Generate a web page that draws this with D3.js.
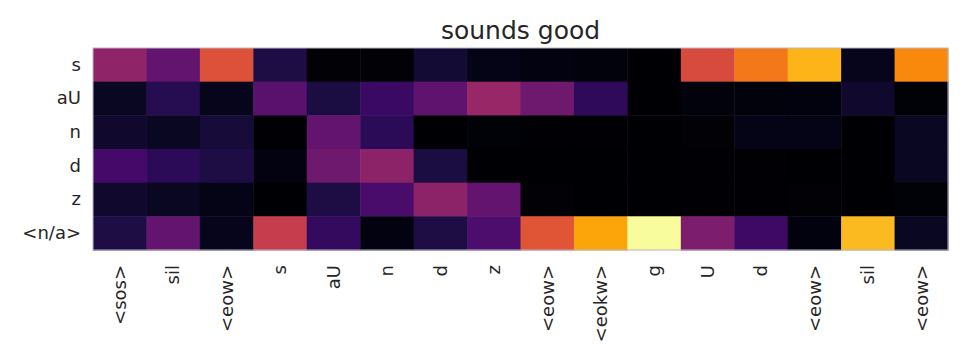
<!DOCTYPE html>
<html>
<head>
<meta charset="utf-8">
<script src="https://cdn.jsdelivr.net/npm/d3@7"></script>
<style>
  body { margin: 0; background: #fff; }
  text { font-family: "DejaVu Sans", sans-serif; fill: #262626; }
</style>
</head>
<body>
<script>
var title = "sounds good";

var rowLabels = ["s", "aU", "n", "d", "z", "<n/a>"];

var colLabels = ["<sos>", "sil", "<eow>", "s", "aU", "n", "d", "z",
                 "<eow>", "<eokw>", "g", "U", "d", "<eow>", "sil", "<eow>"];

// attention weights, one array per row
var rowS   = [0.39, 0.28, 0.60, 0.12, 0.01, 0.01, 0.09, 0.04, 0.03, 0.02, 0.00, 0.58, 0.70, 0.83, 0.05, 0.74];
var rowAU  = [0.06, 0.14, 0.05, 0.26, 0.11, 0.18, 0.27, 0.41, 0.31, 0.16, 0.00, 0.02, 0.02, 0.025, 0.08, 0.015];
var rowN   = [0.08, 0.06, 0.10, 0.005, 0.28, 0.15, 0.00, 0.015, 0.005, 0.005, 0.00, 0.01, 0.04, 0.04, 0.00, 0.06];
var rowD   = [0.21, 0.15, 0.12, 0.03, 0.31, 0.38, 0.11, 0.00, 0.00, 0.00, 0.00, 0.005, 0.005, 0.00, 0.00, 0.06];
var rowZ   = [0.08, 0.06, 0.04, 0.00, 0.12, 0.22, 0.38, 0.28, 0.01, 0.00, 0.00, 0.005, 0.005, 0.01, 0.00, 0.015];
var rowNA  = [0.12, 0.28, 0.05, 0.53, 0.17, 0.03, 0.12, 0.23, 0.61, 0.80, 0.99, 0.34, 0.19, 0.025, 0.84, 0.06];

var values = [rowS, rowAU, rowN, rowD, rowZ, rowNA];

var margin = {top: 48, right: 22, bottom: 114, left: 93},
    W = 970, H = 364,
    width = W - margin.left - margin.right,
    height = H - margin.top - margin.bottom;

var x = d3.scaleBand()
    .domain(d3.range(colLabels.length))
    .range([0, width]);

var y = d3.scaleBand()
    .domain(d3.range(rowLabels.length))
    .range([0, height]);

var color = d3.scaleSequential(d3.interpolateInferno)
    .domain([0, 1]);

var svg = d3.select("body").append("svg")
    .attr("width", W)
    .attr("height", H);

var g = svg.append("g")
    .attr("transform", "translate(" + margin.left + "," + margin.top + ")");

var cells = [];
values.forEach(function(row, i) {
    row.forEach(function(v, j) {
        cells.push({r: i, c: j, v: v});
    });
});

g.selectAll("rect.cell")
    .data(cells)
    .enter().append("rect")
    .attr("class", "cell")
    .attr("x", function(d) { return x(d.c); })
    .attr("y", function(d) { return y(d.r); })
    .attr("width", x.bandwidth() + 0.5)
    .attr("height", y.bandwidth() + 0.5)
    .attr("fill", function(d) { return color(d.v); });

// thin frame round the map
g.append("rect")
    .attr("width", width)
    .attr("height", height)
    .attr("fill", "none")
    .attr("stroke", "#b9b6c8")
    .attr("stroke-width", 1);

var yAxis = d3.axisLeft(y)
    .tickSize(0)
    .tickPadding(12)
    .tickFormat(function(i) { return rowLabels[i]; });

g.append("g")
    .attr("class", "y axis")
    .call(yAxis)
    .call(function(a) { a.select(".domain").remove(); })
    .selectAll("text")
    .style("font-size", "18px");

var xAxis = d3.axisBottom(x)
    .tickSize(0)
    .tickPadding(0)
    .tickFormat(function(i) { return colLabels[i]; });

g.append("g")
    .attr("class", "x axis")
    .attr("transform", "translate(0," + height + ")")
    .call(xAxis)
    .call(function(a) { a.select(".domain").remove(); })
    .selectAll("text")
    .style("font-size", "18px")
    .attr("transform", "rotate(-90)")
    .attr("x", -15)
    .attr("y", 0)
    .attr("dy", "0.35em")
    .style("text-anchor", "end");

svg.append("text")
    .attr("x", margin.left + width / 2)
    .attr("y", 39)
    .attr("text-anchor", "middle")
    .style("font-size", "25px")
    .text(title);
</script>
</body>
</html>
